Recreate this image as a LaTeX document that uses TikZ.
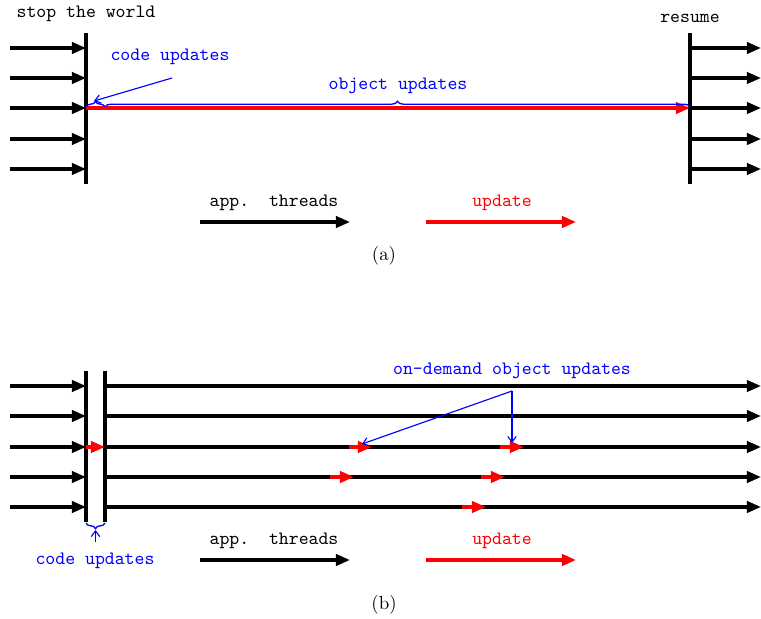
\documentclass[tikz,border=0pt]{standalone}
\usetikzlibrary{arrows.meta,decorations.pathreplacing}
\begin{document}
\begin{tikzpicture}[x=0.53pt,y=-0.53pt,
  thr/.style={line width=1.7pt,-{Triangle[length=7.5pt,width=6pt]}},
  upd/.style={line width=1.7pt,red,-{Triangle[length=7.5pt,width=6pt]}},
  bar/.style={line width=1.7pt},
  note/.style={blue,line width=0.6pt,-{Straight Barb[length=3pt,width=4.5pt]}},
  br/.style={blue,line width=0.7pt,decorate,decoration={brace,amplitude=3pt}},
  lbl/.style={font=\ttfamily,inner sep=0pt},
  blbl/.style={font=\ttfamily,text=blue,inner sep=0pt},
  rlbl/.style={font=\ttfamily,text=red,inner sep=0pt}]
\useasboundingbox (0,0) rectangle (761,619);
% ---------- (a) ----------
\node[lbl] (stw) at (86,14) {stop the world};
\node[lbl] (res) at (690,18) {resume};
\coordinate (lt) at (86,33); \coordinate (lb) at (86,184);
\coordinate (rt) at (690,33); \coordinate (rb) at (690,184);
\draw[bar] (lt) -- (lb);
\draw[bar] (rt) -- (rb);
\foreach \i/\y in {1/48,2/78,3/108,4/139,5/169}{
  \coordinate (a\i) at (10,\y); \coordinate (b\i) at (86,\y);
  \coordinate (c\i) at (690,\y); \coordinate (d\i) at (761,\y);
  \draw[thr] (a\i) -- (b\i);
  \draw[thr] (c\i) -- (d\i);
}
\draw[upd] (b3) -- (c3);
\coordinate (sb1) at (86,107); \coordinate (sb2) at (105,107); \coordinate (sb3) at (690,107);
\draw[br] (sb1) -- (sb2);
\draw[br] (sb2) -- (sb3);
\node[blbl] (cu) at (170,57) {code updates};
\coordinate (cus) at (172,78); \coordinate (cut) at (94,101);
\draw[note] (cus) -- (cut);
\node[blbl] (ou) at (398,86) {object updates};
% legend (a)
\node[lbl] (lga) at (274,203) {app.\ \ threads};
\coordinate (lgas) at (200,222); \coordinate (lgae) at (350,222);
\draw[thr] (lgas) -- (lgae);
\node[rlbl] (lua) at (502,203) {update};
\coordinate (luas) at (426,222); \coordinate (luae) at (576,222);
\draw[upd] (luas) -- (luae);
\node[inner sep=0pt] (capa) at (384,256) {(a)};
% ---------- (b) ----------
\coordinate (v1t) at (86,371); \coordinate (v1b) at (86,522);
\coordinate (v2t) at (105,371); \coordinate (v2b) at (105,522);
\draw[bar] (v1t) -- (v1b);
\draw[bar] (v2t) -- (v2b);
\foreach \i/\y in {1/386,2/416,3/447,4/477,5/507}{
  \coordinate (e\i) at (10,\y); \coordinate (f\i) at (86,\y);
  \coordinate (g\i) at (105,\y); \coordinate (h\i) at (761,\y);
  \draw[thr] (e\i) -- (f\i);
  \draw[thr] (g\i) -- (h\i);
}
\draw[upd] (f3) -- (g3);
\foreach \n/\xa/\xb/\y in {p1/349/372/447,p2/500/524/447,p3/330/354/477,p4/481/505/477,p5/462/486/507}{
  \coordinate (\n s) at (\xa,\y); \coordinate (\n e) at (\xb,\y);
  \draw[upd] (\n s) -- (\n e);
}
\coordinate (bb1) at (105,523); \coordinate (bb2) at (86,523);
\draw[br] (bb1) -- (bb2);
\coordinate (bcs) at (95.5,542); \coordinate (bct) at (95.5,530);
\draw[note] (bcs) -- (bct);
\node[blbl] (cub) at (95,561) {code updates};
\node[blbl] (odu) at (512,371) {on-demand object updates};
\coordinate (ods) at (512,391); \coordinate (odt1) at (362,444); \coordinate (odt2) at (512,443);
\draw[note] (ods) -- (odt1);
\draw[note] (ods) -- (odt2);
% legend (b)
\node[lbl] (lgb) at (274,541) {app.\ \ threads};
\coordinate (lgbs) at (200,560); \coordinate (lgbe) at (350,560);
\draw[thr] (lgbs) -- (lgbe);
\node[rlbl] (lub) at (502,541) {update};
\coordinate (lubs) at (426,560); \coordinate (lube) at (576,560);
\draw[upd] (lubs) -- (lube);
\node[inner sep=0pt] (capb) at (384,605) {(b)};
\end{tikzpicture}
\end{document}
